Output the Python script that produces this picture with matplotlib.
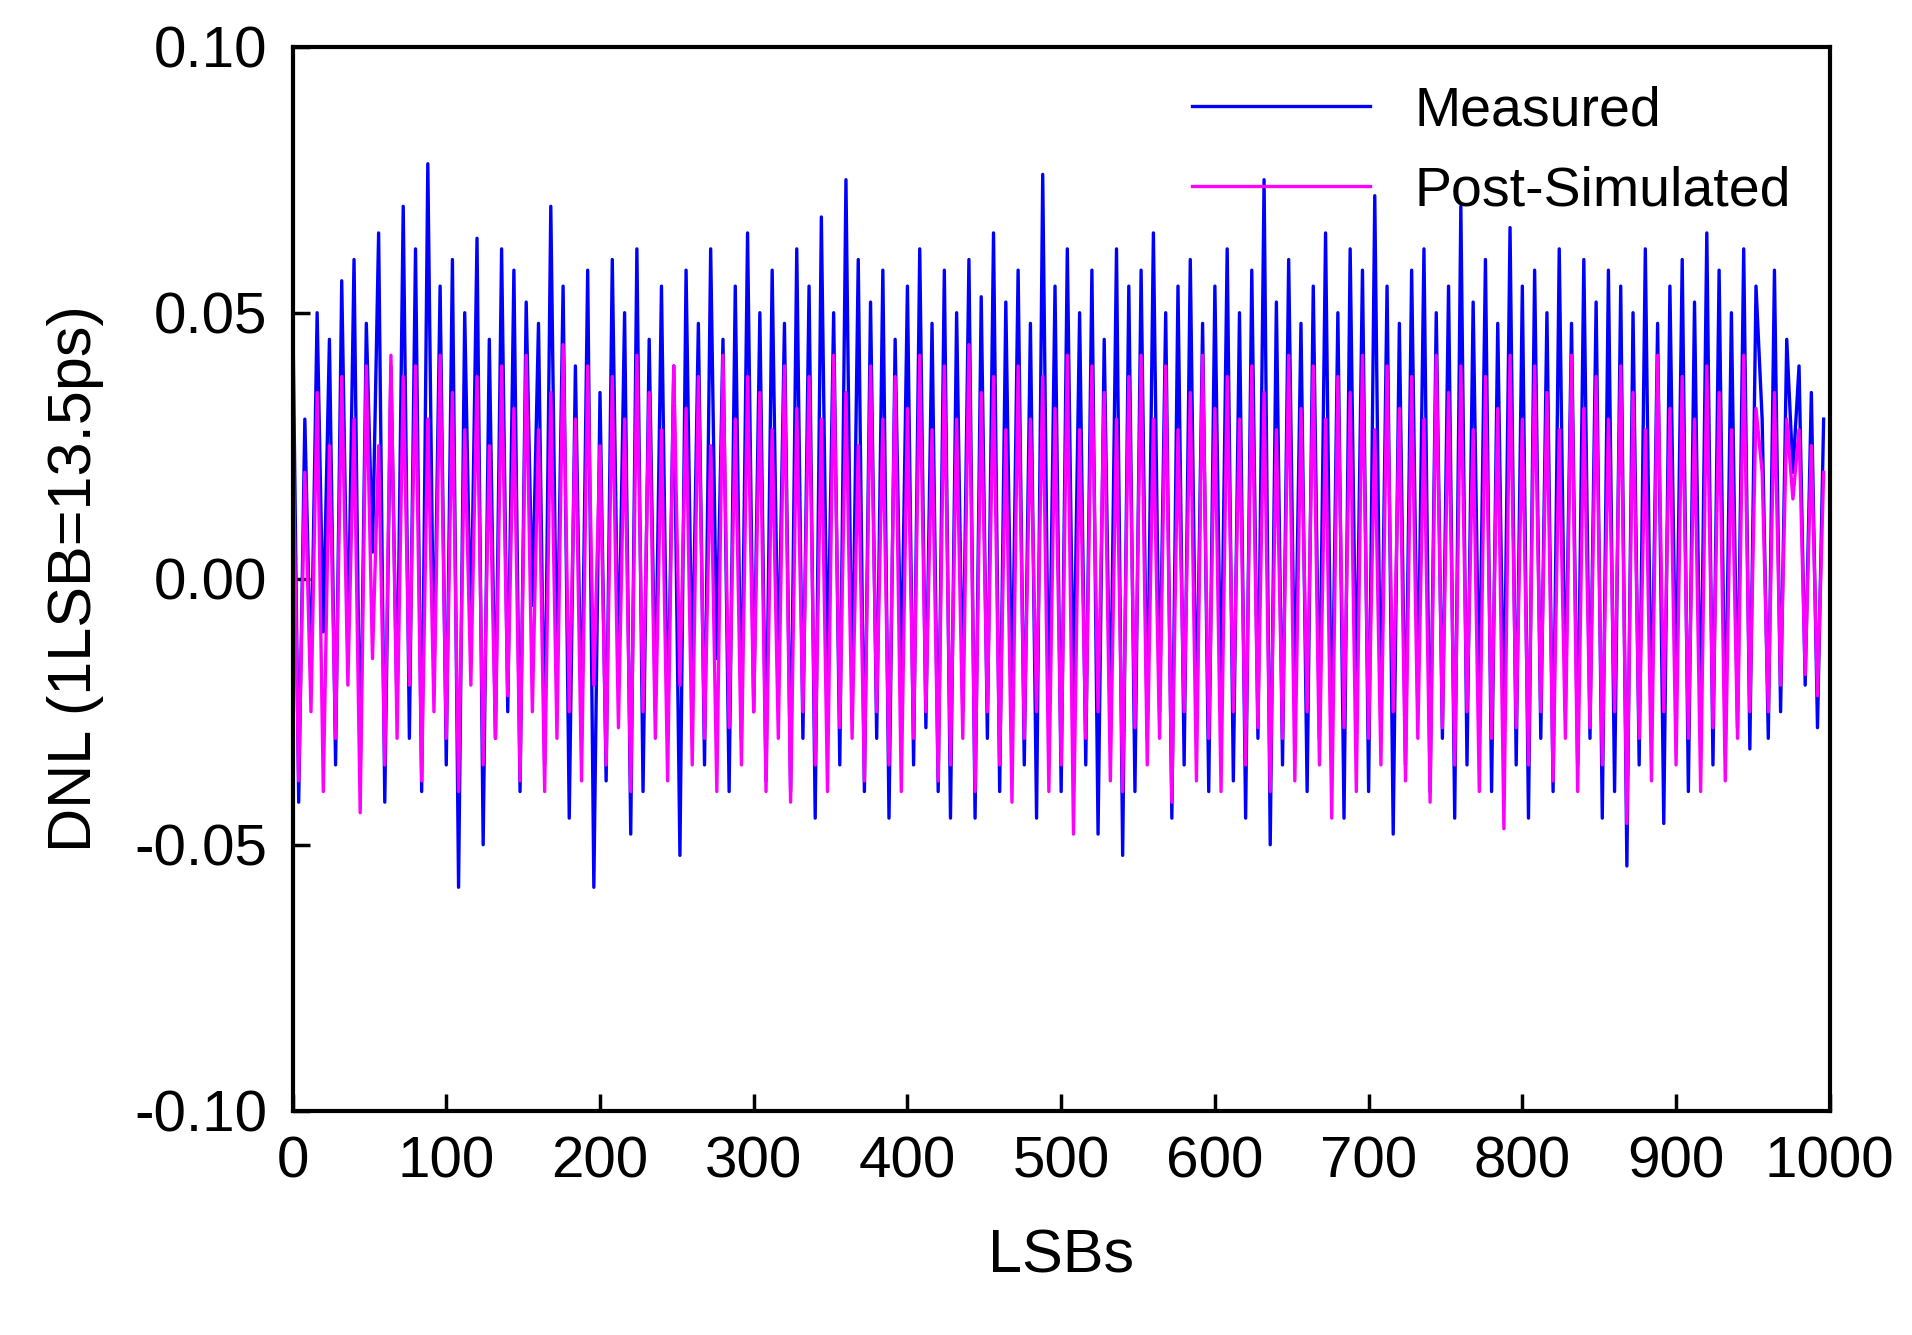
import matplotlib.pyplot as plt
import numpy as np

plt.rcParams["font.family"] = ["Liberation Sans", "DejaVu Sans"]

# DNL values in milli-LSB, one every 4 codes
measured_mlsb = [
    55, -42, 30, -20, 50, -10, 45, -35, 56, -15, 60, -38, 48, 5, 65, -42, 40, -25, 70, -30,
    62, -40, 78, -20, 55, -35, 60, -58, 50, -12, 64, -50, 45, -30, 62, -25, 58, -40, 52, -5,
    48, -35, 70, -20, 55, -45, 40, -30, 58, -58, 35, -38, 60, -20, 50, -48, 62, -40, 45, -25,
    55, -30, 40, -52, 58, -20, 48, -35, 62, -15, 45, -40, 55, -30, 65, -25, 50, -38, 58, -20,
    48, -40, 62, -30, 55, -45, 68, -20, 50, -35, 75, -25, 60, -40, 52, -30, 58, -45, 45, -20,
    55, -35, 62, -28, 48, -40, 58, -45, 50, -25, 60, -45, 53, -30, 65, -40, 52, -25, 58, -35,
    48, -45, 76, -30, 55, -40, 62, -25, 50, -35, 58, -48, 45, -30, 62, -52, 55, -40, 58, -30,
    65, -25, 50, -45, 55, -35, 60, -30, 48, -40, 55, -25, 62, -38, 50, -45, 58, -30, 75, -50,
    52, -35, 60, -25, 48, -40, 55, -30, 65, -35, 50, -45, 62, -25, 58, -40, 72, -30, 55, -48,
    48, -35, 58, -25, 62, -40, 50, -30, 55, -45, 70, -35, 52, -25, 60, -40, 48, -30, 66, -35,
    55, -45, 58, -30, 50, -40, 62, -25, 48, -35, 60, -30, 52, -45, 58, -40, 55, -54, 50, -35,
    62, -30, 48, -46, 55, -25, 60, -40, 52, -30, 65, -35, 58, -33, 50, -28, 62, -32, 55, 30,
    -30, 58, -25, 45, 20, 40, -20, 35, -28, 30,
]
post_sim_mlsb = [
    30, -38, 20, -25, 35, -40, 25, -30, 38, -20, 30, -44, 40, -15, 25, -35, 42, -30, 38, -20,
    40, -38, 30, -25, 42, -30, 35, -40, 28, -20, 38, -35, 25, -30, 40, -22, 32, -38, 42, -25,
    28, -40, 35, -30, 44, -25, 30, -38, 40, -20, 25, -35, 38, -28, 30, -40, 42, -25, 35, -30,
    28, -38, 40, -20, 32, -35, 38, -30, 25, -40, 42, -28, 30, -35, 38, -25, 35, -40, 28, -30,
    40, -42, 32, -25, 38, -35, 30, -40, 42, -28, 35, -30, 25, -38, 40, -25, 30, -35, 38, -40,
    32, -30, 42, -25, 28, -38, 40, -35, 30, -30, 44, -40, 35, -25, 38, -35, 28, -42, 40, -30,
    30, -25, 38, -40, 32, -35, 42, -48, 28, -30, 40, -25, 35, -38, 30, -40, 38, -28, 42, -35,
    30, -30, 40, -42, 28, -25, 35, -38, 42, -30, 32, -40, 38, -25, 30, -35, 40, -28, 35, -40,
    28, -30, 42, -38, 32, -25, 40, -35, 30, -45, 38, -28, 35, -40, 42, -30, 28, -35, 40, -25,
    32, -38, 38, -30, 30, -42, 42, -28, 35, -35, 40, -25, 28, -40, 38, -30, 32, -47, 42, -28,
    30, -35, 40, -25, 35, -38, 28, -30, 42, -40, 32, -28, 38, -35, 30, -25, 40, -46, 35, -30,
    28, -38, 42, -25, 32, -35, 38, -30, 30, -40, 40, -28, 35, -38, 28, -30, 42, -25, 32, 20,
    -25, 35, -20, 30, 15, 28, -18, 25, -22, 20,
]

codes = np.arange(len(measured_mlsb)) * 4
measured = np.array(measured_mlsb) / 1000.0
post_sim = np.array(post_sim_mlsb) / 1000.0

fig = plt.figure(figsize=(19.12, 13.35), dpi=100)
ax = fig.add_axes([0.153, 0.168, 0.804, 0.797])
ax.plot(codes, measured, color="#0000ff", lw=2.4, label="Measured")
ax.plot(codes, post_sim, color="#ff00ff", lw=2.4, label="Post-Simulated")

ax.set_xlim(0, 1000)
ax.set_ylim(-0.10, 0.10)
ax.set_xticks(np.arange(0, 1001, 100))
ax.set_yticks([-0.10, -0.05, 0.0, 0.05, 0.10])
ax.set_yticklabels(["-0.10", "-0.05", "0.00", "0.05", "0.10"])
ax.tick_params(labelsize=42, direction="in", length=12, width=2.5, pad=18)
for spine in ax.spines.values():
    spine.set_linewidth(3)
ax.set_xlabel("LSBs", fontsize=44, labelpad=28)
ax.set_ylabel("DNL (1LSB=13.5ps)", fontsize=44, labelpad=22)
ax.legend(loc="upper right", fontsize=40, frameon=False, handlelength=3.2,
          borderaxespad=0.3)

fig.savefig("out.png", dpi=100)
